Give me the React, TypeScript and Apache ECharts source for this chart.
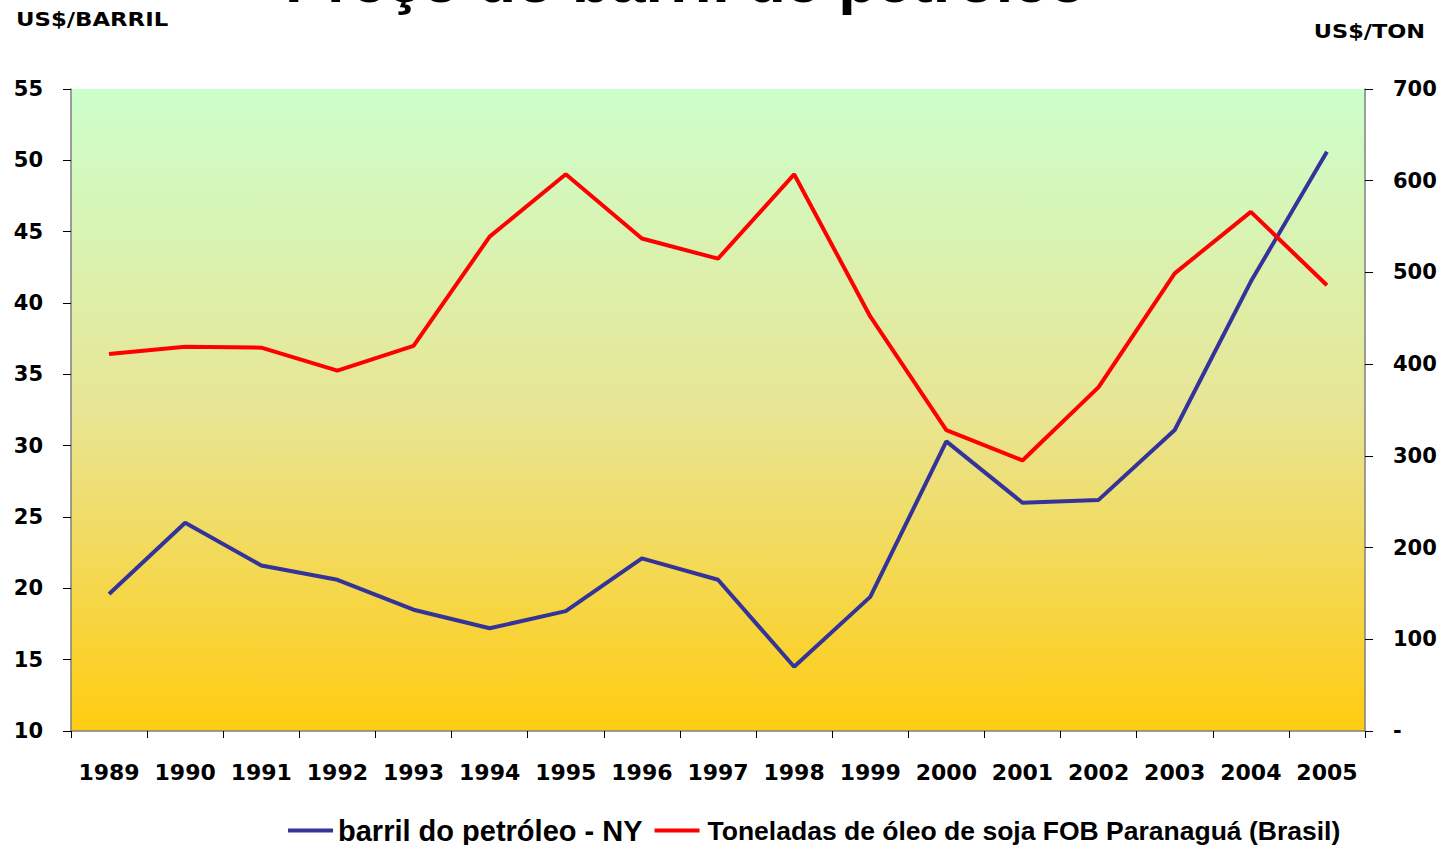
import React, { useEffect, useRef } from "react";
import * as echarts from "echarts";

const years = ["1989","1990","1991","1992","1993","1994","1995","1996","1997","1998","1999","2000","2001","2002","2003","2004","2005"];
const barrilNY = [19.6, 24.6, 21.6, 20.6, 18.5, 17.2, 18.4, 22.1, 20.6, 14.5, 19.4, 30.3, 26.0, 26.2, 31.1, 41.5, 50.6];
const oleoSoja = [411, 419, 418, 393, 420, 539, 607, 537, 515, 607, 452, 328, 295, 375, 499, 566, 486];

const seriesNames = ["barril do petróleo - NY", "Toneladas de óleo de soja FOB Paranaguá (Brasil)"];
const titleText = "Preço do barril de petróleo";
const leftUnit = "US$/BARRIL";
const rightUnit = "US$/TON";

const numFont = "DejaVu Sans";
const textFont = "Liberation Sans";

export default function App() {
  const ref = useRef<HTMLDivElement>(null);
  useEffect(() => {
    if (!ref.current) return;
    const chart = echarts.init(ref.current, null, { renderer: "svg" });
    chart.setOption({
      animation: false,
      backgroundColor: "#ffffff",
      grid: {
        left: 71,
        right: 80,
        top: 89,
        bottom: 114,
        show: true,
        borderWidth: 0,
        backgroundColor: new echarts.graphic.LinearGradient(0, 0, 0, 1, [
          { offset: 0, color: "#CCFFCC" },
          { offset: 0.5, color: "#E8E594" },
          { offset: 1, color: "#FFCC11" },
        ]),
      },
      graphic: [
        {
          type: "text",
          x: 285,
          y: -20,
          style: {
            text: titleText,
            font: `bold 63px "${textFont}"`,
            fill: "#000",
            verticalAlign: "middle",
            align: "left",
          },
        },
        {
          type: "text",
          x: 16,
          y: 20,
          scaleX: 1.2,
          style: {
            text: leftUnit,
            font: `bold 19px "${numFont}"`,
            fill: "#000",
            verticalAlign: "middle",
            align: "left",
          },
        },
        {
          type: "text",
          x: 1425,
          y: 32,
          scaleX: 1.18,
          style: {
            text: rightUnit,
            font: `bold 19px "${numFont}"`,
            fill: "#000",
            verticalAlign: "middle",
            align: "right",
          },
        },
      ],
      legend: {
        left: 288,
        top: 816,
        padding: 0,
        itemWidth: 45,
        itemHeight: 4,
        itemGap: 12,
        icon: "rect",
        data: seriesNames,
        formatter: (name: string) => (name === seriesNames[1] ? `{p|${name}}` : name),
        textStyle: {
          fontFamily: textFont,
          fontWeight: "bold",
          fontSize: 29,
          color: "#000",
          rich: {
            p: {
              fontFamily: textFont,
              fontWeight: "bold",
              fontSize: 26.5,
              color: "#000",
              padding: [0, 0, 0, 3],
            },
          },
        },
      },
      xAxis: {
        type: "category",
        data: years,
        boundaryGap: true,
        axisLine: { show: true, lineStyle: { color: "#7f7f7f", width: 1.5 } },
        axisTick: { show: true, inside: false, length: 7, alignWithLabel: false, lineStyle: { color: "#000" } },
        axisLabel: {
          margin: 30,
          interval: 0,
          fontFamily: numFont,
          fontWeight: "bold",
          fontSize: 22,
          color: "#000",
        },
        splitLine: { show: false },
      },
      yAxis: [
        {
          type: "value",
          min: 10,
          max: 55,
          interval: 5,
          position: "left",
          axisLine: { show: true, lineStyle: { color: "#7f7f7f", width: 1.5 } },
          axisTick: { show: true, length: 8, lineStyle: { color: "#000" } },
          axisLabel: {
            margin: 28,
            fontFamily: numFont,
            fontWeight: "bold",
            fontSize: 21,
            color: "#000",
          },
          splitLine: { show: false },
        },
        {
          type: "value",
          min: 0,
          max: 700,
          interval: 100,
          position: "right",
          axisLine: { show: true, lineStyle: { color: "#7f7f7f", width: 1.5 } },
          axisTick: { show: true, length: 8, lineStyle: { color: "#000" } },
          axisLabel: {
            margin: 28,
            fontFamily: numFont,
            fontWeight: "bold",
            fontSize: 21,
            color: "#000",
            formatter: (v: number) => (v === 0 ? "-" : String(v)),
          },
          splitLine: { show: false },
        },
      ],
      series: [
        {
          name: seriesNames[0],
          type: "line",
          yAxisIndex: 0,
          data: barrilNY,
          symbol: "none",
          lineStyle: { color: "#333399", width: 4 },
          itemStyle: { color: "#333399" },
        },
        {
          name: seriesNames[1],
          type: "line",
          yAxisIndex: 1,
          data: oleoSoja,
          symbol: "none",
          lineStyle: { color: "#FF0000", width: 4 },
          itemStyle: { color: "#FF0000" },
        },
      ],
    });
    return () => chart.dispose();
  }, []);
  return (
    <div
      ref={ref}
      style={{ position: "absolute", left: 0, top: 0, width: 1445, height: 845 }}
    />
  );
}
